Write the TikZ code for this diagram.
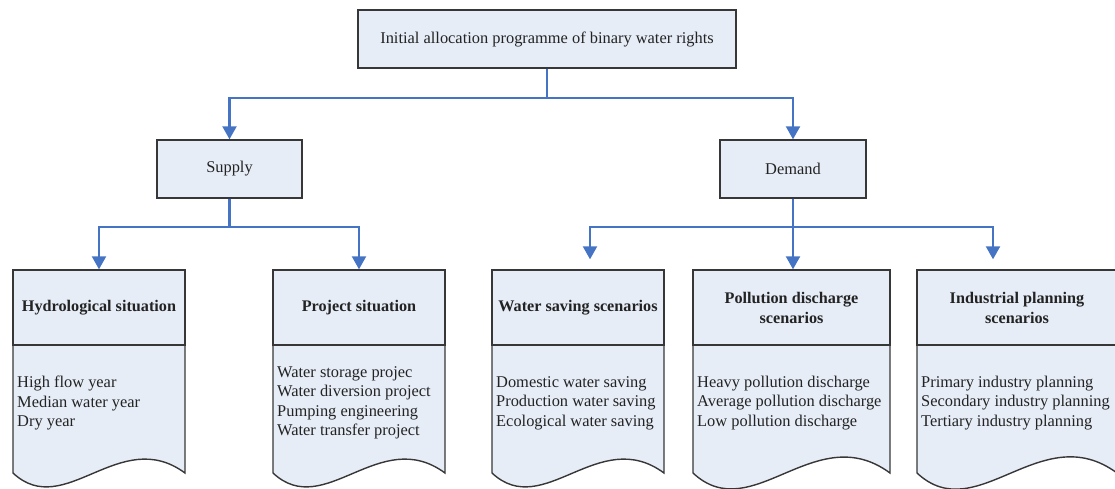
\documentclass[tikz,border=0pt]{standalone}
\usepackage{fontspec}
\setmainfont{Liberation Serif}
\usetikzlibrary{positioning, calc, arrows.meta}
\definecolor{boxfill}{RGB}{230, 237, 247}
\definecolor{boxline}{RGB}{55, 55, 55}
\definecolor{flowblue}{RGB}{70, 116, 196}
\definecolor{textgray}{RGB}{35, 35, 35}

\tikzset{
  plainbox/.style={draw=boxline, fill=boxfill, line width=1.4pt, text=textgray,
    font=\fontsize{16.4}{18}\selectfont},
  dochead/.style={plainbox, minimum height=75pt, align=center,
    font=\fontsize{16.2}{20}\selectfont\bfseries},
  docitems/.style={align=left, inner sep=0pt, text=textgray,
    font=\fontsize{16.4}{19.5}\selectfont},
  flow/.style={draw=flowblue, line width=2.2pt, -{Triangle[width=14pt, length=13pt]}}
}

% document shape: name, left, right, title, items
\newcommand{\docpage}[5]{%
  \filldraw[plainbox] (#2,-345) -- (#2,-473)
    .. controls ({#2+0.3*(#3-#2)},{-473-0.28*(#3-#2)}) and ({#2+0.62*(#3-#2)},{-473+0.28*(#3-#2)}) .. (#3,-473)
    -- (#3,-345) -- cycle;
  \node[dochead, minimum width={#3-#2}] (#1) at ({(#2+#3)/2},-307.5) {#4};
  \node[docitems, anchor=west] (#1-list) at (#2+4,-403) {#5};
}

\begin{document}
\begin{tikzpicture}[x=1pt, y=1pt]
  \useasboundingbox (0,0) rectangle (1115,-488);
  \clip (0,0) rectangle (1115,-488);

  % Top
  \node[plainbox, minimum width=378pt, minimum height=58pt] (top) at (547,-39)
    {Initial allocation programme of binary water rights};

  % Supply / Demand
  \node[plainbox, minimum width=145pt, minimum height=58pt] (supply) at (229.5,-169) {Supply};
  \node[plainbox, minimum width=146pt, minimum height=58pt] (demand) at (793,-169) {Demand};

  % Documents
  \docpage{hydro}{13}{185}{Hydrological situation}{High flow year\\Median water year\\Dry year}
  \docpage{project}{273}{445}{Project situation}{Water storage projec\\Water diversion project\\Pumping engineering\\Water transfer project}
  \docpage{saving}{492}{664}{Water saving scenarios}{Domestic water saving\\Production water saving\\Ecological water saving}
  \docpage{pollution}{693}{890}{Pollution discharge\\scenarios}{Heavy pollution discharge\\Average pollution discharge\\Low pollution discharge}
  \docpage{industry}{917}{1117}{Industrial planning\\scenarios}{Primary industry planning\\Secondary industry planning\\Tertiary industry planning}

  % Connectors
  \draw[flow] (top.south) -- ++(0,-29) -| (supply.north);
  \draw[flow] (top.south) -- ++(0,-29) -| (demand.north);
  \draw[flow] (supply.south) -- ++(0,-28) -| (hydro.north);
  \draw[flow] (supply.south) -- ++(0,-28) -| (project.north);
  \draw[flow] (demand.south) -- ++(0,-28) -| ([xshift=12pt, yshift=10pt]saving.north);
  \draw[flow] (demand.south) -- ++(0,-28) -| ([xshift=-24pt, yshift=10pt]industry.north);
  \draw[flow] (demand.south) -- (demand.south |- pollution.north);
\end{tikzpicture}
\end{document}
